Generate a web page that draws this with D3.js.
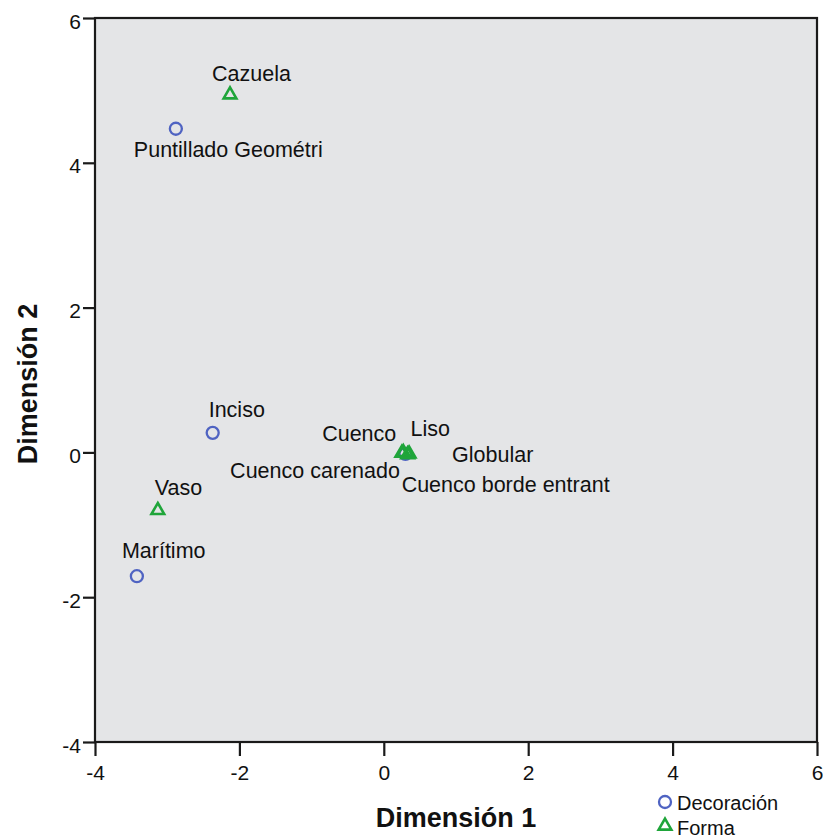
<!DOCTYPE html>
<html>
<head>
<meta charset="utf-8">
<script src="https://cdn.jsdelivr.net/npm/d3@7"></script>
<style>
  html, body { margin: 0; padding: 0; background: #ffffff; }
  svg { display: block; font-family: "Liberation Sans", Arial, sans-serif; }
</style>
</head>
<body>
<svg id="chart" width="823" height="840"></svg>
<script>
// Category points, dimension 1 and dimension 2 coordinates
const decoracionNames = ["Puntillado Geométri", "Inciso", "Marítimo", "Liso"];
const decoracionDim1 = [-2.88, -2.37, -3.42, 0.30];
const decoracionDim2 = [4.47, 0.27, -1.71, -0.02];

const formaNames = ["Cazuela", "Vaso", "Cuenco", "Cuenco carenado", "Globular", "Cuenco borde entrant"];
const formaDim1 = [-2.13, -3.13, 0.27, 0.25, 0.35, 0.33];
const formaDim2 = [4.94, -0.80, 0.0, -0.01, -0.02, -0.03];

const xTicks = [-4, -2, 0, 2, 4, 6];
const yTicks = [-4, -2, 0, 2, 4, 6];
const legendLabels = ["Decoración", "Forma"];

// Label placement around each point: start offset, baseline offset, anchor
const labelPlacement = {
  "Puntillado Geométri": [-42, 28, "start"],
  "Inciso": [-4, -16, "start"],
  "Marítimo": [-15, -18, "start"],
  "Liso": [5, -18, "start"],
  "Cazuela": [-18, -14, "start"],
  "Vaso": [-3, -15, "start"],
  "Cuenco": [-7, -11, "end"],
  "Cuenco carenado": [-2, 25, "end"],
  "Globular": [43, 8, "start"],
  "Cuenco borde entrant": [-6, 37, "start"]
};

const svg = d3.select("#chart");
const plot = { left: 95, right: 817, top: 18, bottom: 742 };

const x = d3.scaleLinear().domain([-4, 6]).range([plot.left, plot.right]);
const y = d3.scaleLinear().domain([-4, 6]).range([plot.bottom, plot.top]);

const blue = "#4f63c2";
const green = "#1fa53a";

// Plot background
svg.append("rect")
  .attr("x", plot.left).attr("y", plot.top)
  .attr("width", plot.right - plot.left).attr("height", plot.bottom - plot.top)
  .attr("fill", "#e4e5e7");

// Axes
const xAxis = svg.append("g")
  .attr("transform", `translate(0,${plot.bottom})`)
  .call(d3.axisBottom(x).tickValues(xTicks).tickSize(14).tickPadding(9).tickFormat(d => String(d)));
const yAxis = svg.append("g")
  .attr("transform", `translate(${plot.left},0)`)
  .call(d3.axisLeft(y).tickValues(yTicks).tickSize(12).tickPadding(2).tickFormat(d => String(d)));

[xAxis, yAxis].forEach(g => {
  g.select(".domain").remove();
  g.selectAll(".tick line").attr("stroke", "#1a1a1a").attr("stroke-width", 2.2);
  g.selectAll(".tick text")
    .attr("fill", "#111")
    .style("font-size", "21px")
    .style("font-family", "'Liberation Sans', Arial, sans-serif");
});
xAxis.selectAll(".tick text").attr("dy", "0.72em");
yAxis.selectAll(".tick text").attr("dy", "0.48em");

// Frame
svg.append("rect")
  .attr("x", plot.left).attr("y", plot.top)
  .attr("width", plot.right - plot.left).attr("height", plot.bottom - plot.top)
  .attr("fill", "none").attr("stroke", "#1a1a1a").attr("stroke-width", 2.2);

// Axis titles
svg.append("text")
  .attr("x", (plot.left + plot.right) / 2).attr("y", 827)
  .attr("text-anchor", "middle")
  .style("font-size", "27px").style("font-weight", "bold")
  .attr("fill", "#111")
  .text("Dimensión 1");
svg.append("text")
  .attr("transform", `translate(37,${(plot.top + plot.bottom) / 2 + 4}) rotate(-90)`)
  .attr("text-anchor", "middle")
  .style("font-size", "27px").style("font-weight", "bold")
  .attr("fill", "#111")
  .text("Dimensión 2");

// Points
const decoracion = decoracionNames.map((n, i) => ({ name: n, d1: decoracionDim1[i], d2: decoracionDim2[i] }));
const forma = formaNames.map((n, i) => ({ name: n, d1: formaDim1[i], d2: formaDim2[i] }));

const triangle = d3.symbol().type(d3.symbolTriangle).size(70);

const marks = svg.append("g");
marks.selectAll("circle.dec")
  .data(decoracion).join("circle")
  .attr("class", "dec")
  .attr("cx", d => x(d.d1)).attr("cy", d => y(d.d2))
  .attr("r", 6)
  .attr("fill", "none").attr("stroke", blue).attr("stroke-width", 2.3);

marks.selectAll("path.forma")
  .data(forma).join("path")
  .attr("class", "forma")
  .attr("transform", d => `translate(${x(d.d1)},${y(d.d2)})`)
  .attr("d", triangle)
  .attr("fill", "none").attr("stroke", green).attr("stroke-width", 2.6)
  .attr("stroke-linejoin", "miter");

// Point labels
const labels = svg.append("g")
  .style("font-size", "21.5px")
  .attr("fill", "#111");
labels.selectAll("text")
  .data(decoracion.concat(forma)).join("text")
  .attr("x", d => x(d.d1) + labelPlacement[d.name][0])
  .attr("y", d => y(d.d2) + labelPlacement[d.name][1])
  .attr("text-anchor", d => labelPlacement[d.name][2])
  .text(d => d.name);

// Legend
const legend = svg.append("g");
legend.append("circle")
  .attr("cx", 665).attr("cy", 802).attr("r", 6)
  .attr("fill", "none").attr("stroke", blue).attr("stroke-width", 2.3);
legend.append("path")
  .attr("transform", "translate(665,826)")
  .attr("d", triangle)
  .attr("fill", "none").attr("stroke", green).attr("stroke-width", 2.6);
legend.selectAll("text")
  .data(legendLabels).join("text")
  .attr("x", 677)
  .attr("y", (d, i) => 810 + i * 25)
  .style("font-size", "20px")
  .attr("fill", "#111")
  .text(d => d);
</script>
</body>
</html>
